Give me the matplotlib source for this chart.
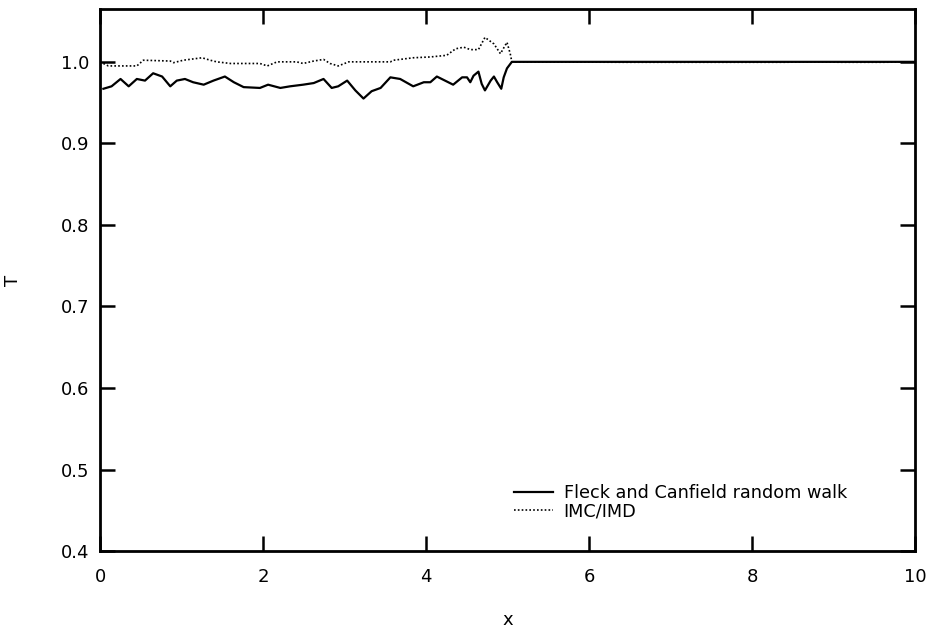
import matplotlib
matplotlib.use("Agg")
from matplotlib import pyplot as plt

# Fleck and Canfield random walk (solid)
x_fc = [0.04, 0.14, 0.25, 0.35, 0.45, 0.55, 0.65, 0.76, 0.86, 0.94,
        1.04, 1.14, 1.27, 1.39, 1.53, 1.64, 1.76, 1.96, 2.06, 2.21,
        2.33, 2.49, 2.62, 2.74, 2.84, 2.92, 3.03, 3.13, 3.23, 3.33,
        3.44, 3.56, 3.68, 3.84, 3.97, 4.05, 4.13, 4.23, 4.33, 4.44,
        4.50, 4.54, 4.58, 4.64, 4.68, 4.72, 4.79, 4.83, 4.87, 4.92,
        4.95, 4.99, 5.05, 10.0]
t_fc = [0.967, 0.970, 0.979, 0.970, 0.979, 0.977, 0.986, 0.982, 0.970, 0.977,
        0.979, 0.975, 0.972, 0.977, 0.982, 0.975, 0.969, 0.968, 0.972, 0.968,
        0.970, 0.972, 0.974, 0.979, 0.968, 0.970, 0.977, 0.965, 0.955, 0.964,
        0.968, 0.981, 0.979, 0.970, 0.975, 0.975, 0.982, 0.977, 0.972, 0.981,
        0.981, 0.975, 0.983, 0.988, 0.973, 0.965, 0.977, 0.982, 0.975, 0.967,
        0.981, 0.992, 1.000, 1.000]

# IMC/IMD (dotted)
x_imc = [0.04, 0.10, 0.45, 0.53, 0.86, 0.90, 1.02, 1.25, 1.35, 1.43,
         1.60, 1.96, 2.05, 2.17, 2.41, 2.49, 2.62, 2.74, 2.82, 2.92,
         3.05, 3.56, 3.60, 3.84, 4.05, 4.25, 4.36, 4.46, 4.54, 4.64,
         4.72, 4.83, 4.91, 4.99, 5.03, 5.05, 6.4, 6.9, 7.0, 7.7,
         8.4, 8.7, 9.1, 9.6, 10.0]
t_imc = [0.998, 0.995, 0.995, 1.002, 1.001, 0.999, 1.002, 1.005, 1.002, 1.000,
         0.998, 0.998, 0.995, 1.000, 1.000, 0.998, 1.001, 1.003, 0.998, 0.995,
         1.000, 1.000, 1.002, 1.005, 1.006, 1.008, 1.016, 1.018, 1.015, 1.015,
         1.030, 1.022, 1.010, 1.024, 1.010, 1.000, 0.9995, 0.9995, 0.9995, 0.9995,
         0.9995, 1.000, 0.9995, 0.9995, 1.000]

x_ticks = [0, 2, 4, 6, 8, 10]
y_ticks = [0.4, 0.5, 0.6, 0.7, 0.8, 0.9, 1.0]

fig = plt.figure(figsize=(9.36, 6.32), dpi=100)
ax = fig.add_axes([0.107, 0.128, 0.871, 0.858])

ax.plot(x_imc, t_imc, color="black", lw=1.2, ls=(0, (1, 1.3)), label="IMC/IMD")
ax.plot(x_fc, t_fc, color="black", lw=1.6, ls="-", label="Fleck and Canfield random walk")

ax.set_xlim(0, 10)
ax.set_ylim(0.4, 1.065)
ax.set_xticks(x_ticks)
ax.set_yticks(y_ticks)
ax.set_yticklabels([f"{v:.1f}" for v in y_ticks])
ax.tick_params(direction="in", length=11, width=1.8, top=True, right=True,
               labelsize=13, pad=8)
ax.tick_params(axis="x", pad=12)
for s in ax.spines.values():
    s.set_linewidth(2)

ax.set_xlabel("x", fontsize=13, labelpad=18)
ax.set_ylabel("T", fontsize=13, labelpad=28)

h, l = ax.get_legend_handles_labels()
ax.legend(h[::-1], l[::-1], loc="lower left", bbox_to_anchor=(0.497, 0.04),
          frameon=False, fontsize=12.7, handlelength=2.2, handletextpad=0.6,
          labelspacing=0.05, borderpad=0)

fig.savefig("out.png", dpi=100)
